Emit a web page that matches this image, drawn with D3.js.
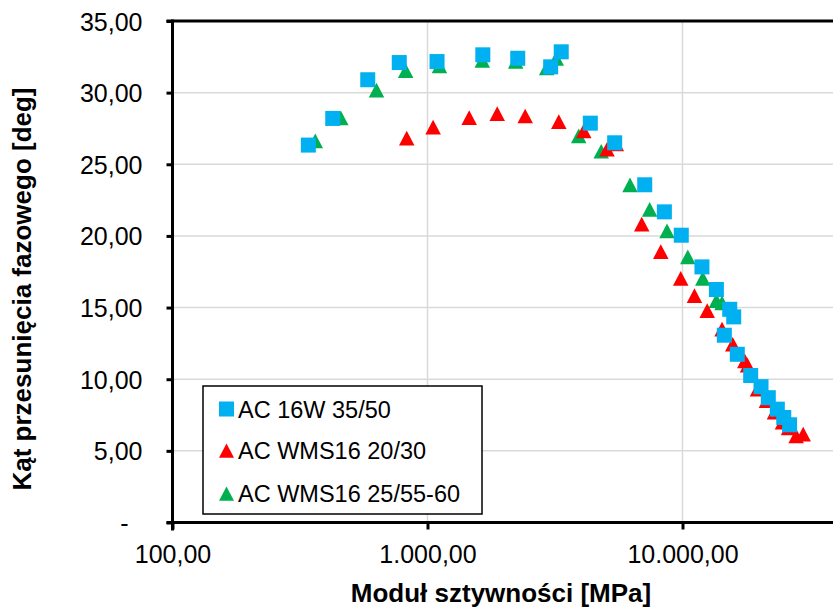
<!DOCTYPE html>
<html>
<head>
<meta charset="utf-8">
<script src="https://cdn.jsdelivr.net/npm/d3@7"></script>
<style>
  html, body { margin: 0; padding: 0; background: #fff; }
  svg { display: block; font-family: "Liberation Sans", Arial, sans-serif; }
</style>
</head>
<body>
<svg id="chart" width="833" height="608"></svg>
<script>
// ---- data (Moduł sztywności [MPa], Kąt [deg]) ----
const seriesNames = ["AC 16W 35/50", "AC WMS16 20/30", "AC WMS16 25/55-60"];

const blueModulus = [341, 425, 583, 775, 1090, 1648, 2259, 3041, 3345, 4350, 5420, 7110, 8490, 9890, 11920, 13580, 15320, 15880, 14590, 16400, 18510, 20320, 21700, 23540, 24950, 26300];
const blueAngle   = [26.34, 28.2, 30.9, 32.1, 32.17, 32.64, 32.4, 31.8, 32.85, 27.87, 26.5, 23.57, 21.68, 20.05, 17.84, 16.26, 14.88, 14.35, 13.07, 11.74, 10.26, 9.48, 8.71, 7.91, 7.33, 6.82];

const redModulus = [829, 1052, 1457, 1877, 2416, 3272, 4100, 5058, 5500, 6920, 8220, 9840, 11140, 12500, 14290, 15740, 17550, 17990, 19680, 21340, 22940, 24660, 26050, 27900, 29740];
const redAngle   = [26.83, 27.59, 28.26, 28.54, 28.37, 27.97, 27.33, 26.05, 26.43, 20.82, 18.91, 17.03, 15.84, 14.79, 13.49, 12.44, 11.28, 10.99, 9.3, 8.5, 7.7, 7.0, 6.6, 6.05, 6.16];

const greenModulus = [363, 457, 631, 821, 1114, 1640, 2218, 2934, 3198, 3917, 4800, 6225, 7435, 8695, 10490, 12010, 13580, 14290];
const greenAngle   = [26.63, 28.24, 30.18, 31.54, 31.87, 32.25, 32.19, 31.73, 32.39, 26.98, 25.91, 23.57, 21.86, 20.35, 18.54, 17.03, 15.49, 15.32];

const xTickValues = [100, 1000, 10000];
const yTickValues = [0, 5, 10, 15, 20, 25, 30, 35];

const xTitle = "Moduł sztywności [MPa]";
const yTitle = "Kąt przesunięcia fazowego [deg]";

// ---- layout ----
const svg = d3.select("#chart");
const L = 172.5, T = 21, B = 522.5;
const x = d3.scaleLog().domain([100, 100000]).range([L, L + 3 * 255]);
const y = d3.scaleLinear().domain([0, 35]).range([B, T]);

const pl = d3.formatLocale({decimal: ",", thousands: ".", grouping: [3], currency: ["", ""]});
const fmt = pl.format(",.2f");

const gridColor = "#d9d9d9";
// gridlines
svg.append("g").selectAll("line").data(yTickValues.filter(v => v > 0 && v < 35)).join("line")
  .attr("x1", L).attr("x2", 833).attr("y1", d => y(d)).attr("y2", d => y(d))
  .attr("stroke", gridColor).attr("stroke-width", 1.5);
svg.append("g").selectAll("line").data(xTickValues.filter(v => v > 100)).join("line")
  .attr("x1", d => x(d)).attr("x2", d => x(d)).attr("y1", T).attr("y2", B)
  .attr("stroke", gridColor).attr("stroke-width", 1.5);

// axes
const yAxis = d3.axisLeft(y).tickValues(yTickValues).tickSize(6).tickPadding(24)
  .tickFormat(d => d === 0 ? "-" : fmt(d));
const gy = svg.append("g").attr("transform", `translate(${L},0)`).call(yAxis);
gy.select(".domain").remove();
gy.selectAll(".tick line").attr("stroke", "#000").attr("stroke-width", 3);
gy.selectAll(".tick text").attr("font-size", 25).attr("fill", "#000").attr("dy", "0.36em")
  .attr("dx", d => d === 0 ? -14 : 0);

const xAxis = d3.axisBottom(x).tickValues(xTickValues).tickSize(7).tickPadding(16)
  .tickFormat(d => fmt(d));
const gx = svg.append("g").attr("transform", `translate(0,${B})`).call(xAxis);
gx.select(".domain").remove();
gx.selectAll(".tick line").attr("stroke", "#000").attr("stroke-width", 3);
gx.selectAll(".tick text").attr("font-size", 25).attr("fill", "#000");

// frame lines
svg.append("line").attr("x1", L).attr("x2", L).attr("y1", T - 1.5).attr("y2", B + 8)
  .attr("stroke", "#000").attr("stroke-width", 3);
svg.append("line").attr("x1", L - 6).attr("x2", 833).attr("y1", B).attr("y2", B)
  .attr("stroke", "#000").attr("stroke-width", 3);
svg.append("line").attr("x1", L - 6).attr("x2", 833).attr("y1", T).attr("y2", T)
  .attr("stroke", "#000").attr("stroke-width", 3);

// markers
const sq = 15;
const triPath = (cx, cy, s) => {
  const h = s * 0.95;
  return `M${cx},${cy - h / 2}L${cx + s / 2},${cy + h / 2}L${cx - s / 2},${cy + h / 2}Z`;
};
const zip = (a, b) => a.map((v, i) => [v, b[i]]);

svg.append("g").selectAll("path").data(zip(greenModulus, greenAngle)).join("path")
  .attr("d", d => triPath(x(d[0]), y(d[1]), 15.5)).attr("fill", "#00b050");
svg.append("g").selectAll("path").data(zip(redModulus, redAngle)).join("path")
  .attr("d", d => triPath(x(d[0]), y(d[1]), 15.5)).attr("fill", "#ff0000");
svg.append("g").selectAll("rect").data(zip(blueModulus, blueAngle)).join("rect")
  .attr("x", d => x(d[0]) - sq / 2).attr("y", d => y(d[1]) - sq / 2)
  .attr("width", sq).attr("height", sq).attr("fill", "#00b0f0");

// legend
const lg = svg.append("g");
lg.append("rect").attr("x", 203).attr("y", 386).attr("width", 279).attr("height", 128)
  .attr("fill", "#fff").attr("stroke", "#000").attr("stroke-width", 1.5);
const rows = [409, 450.5, 493.5];
const colors = ["#00b0f0", "#ff0000", "#00b050"];
seriesNames.forEach((name, i) => {
  if (i === 0) {
    lg.append("rect").attr("x", 219).attr("y", rows[i] - 7.5).attr("width", 15).attr("height", 15).attr("fill", colors[i]);
  } else {
    lg.append("path").attr("d", triPath(226.5, rows[i], 15)).attr("fill", colors[i]);
  }
  lg.append("text").attr("x", 238).attr("y", rows[i] + 8.5).attr("font-size", 23.5)
    .attr("fill", "#000").text(name);
});

// titles
svg.append("text").attr("x", 501).attr("y", 602).attr("text-anchor", "middle")
  .attr("font-size", 26).attr("font-weight", "bold").attr("fill", "#000").text(xTitle);
svg.append("text").attr("transform", "translate(31,289) rotate(-90)").attr("text-anchor", "middle")
  .attr("font-size", 26).attr("font-weight", "bold").attr("fill", "#000").text(yTitle);
</script>
</body>
</html>
